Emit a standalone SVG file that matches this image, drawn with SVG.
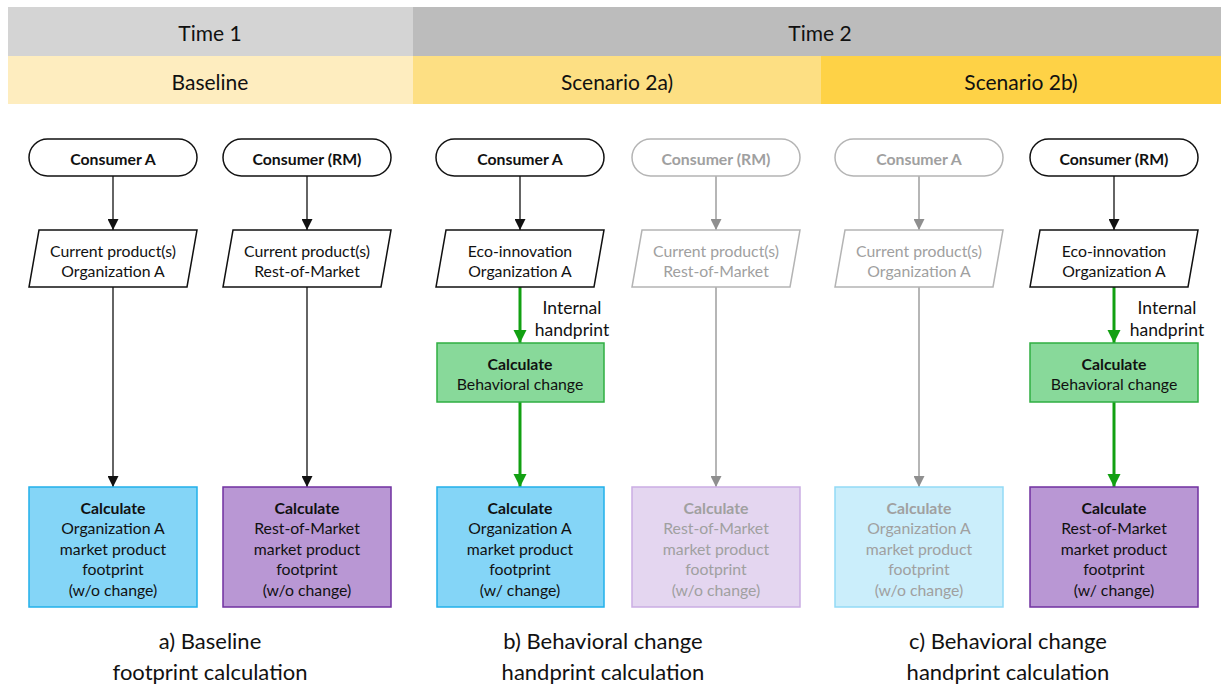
<svg xmlns="http://www.w3.org/2000/svg" width="1221" height="685" viewBox="0 0 1221 685">
  <defs>
    <style>
      text { font-family: Lato, "Open Sans", "Liberation Sans", sans-serif; text-anchor: middle; dominant-baseline: central; fill: #111; }
      .hdr { font-size: 21px; }
      .cap { font-size: 22px; }
      .lbl { font-size: 15.8px; }
      .note { font-size: 17.5px; }
      .b { font-weight: bold; }
      .fade { fill: #a0a0a0; }
      .pill { fill: #fff; stroke: #111; stroke-width: 1.5; }
      .pill.off { stroke: #b4b4b4; }
      .para { fill: #fff; stroke: #111; stroke-width: 1.5; }
      .para.off { stroke: #b4b4b4; }
      .green { fill: #88d99a; stroke: #2fae42; stroke-width: 1.5; }
      .blue { fill: #84d5f7; stroke: #22b0ea; stroke-width: 1.5; }
      .blue.off { fill: #cbeefb; stroke: #93daf6; }
      .purple { fill: #b997d4; stroke: #7030a0; stroke-width: 1.5; }
      .purple.off { fill: #e4d6f0; stroke: #caade3; }
      .ln { fill: none; stroke: #111; stroke-width: 1.3; }
      .ln.off { stroke: #8f8f8f; }
      .ln.grn { stroke: #12a012; stroke-width: 3; }
    </style>
    <marker id="ah" viewBox="0 0 10 10" refX="10" refY="5" markerUnits="userSpaceOnUse" markerWidth="11" markerHeight="11" orient="auto">
      <path d="M0,0 L10,5 L0,10 Z" fill="#111"/>
    </marker>
    <marker id="ah-off" viewBox="0 0 10 10" refX="10" refY="5" markerUnits="userSpaceOnUse" markerWidth="11" markerHeight="11" orient="auto">
      <path d="M0,0 L10,5 L0,10 Z" fill="#8f8f8f"/>
    </marker>
    <marker id="ah-grn" viewBox="0 0 10 10" refX="10" refY="5" markerUnits="userSpaceOnUse" markerWidth="13" markerHeight="15" orient="auto">
      <path d="M0,0 L10,5 L0,10 Z" fill="#12a012"/>
    </marker>
  </defs>

  <!-- header bands -->
  <g id="header">
    <rect x="8" y="7" width="405" height="49" fill="#d4d4d4"/>
    <rect x="413" y="7" width="808" height="49" fill="#bcbcbc"/>
    <rect x="8" y="56" width="405" height="48" fill="#feedbf"/>
    <rect x="413" y="56" width="408" height="48" fill="#fddf83"/>
    <rect x="821" y="56" width="400" height="48" fill="#fed246"/>
    <text class="hdr" x="210" y="32">Time 1</text>
    <text class="hdr" x="820" y="32">Time 2</text>
    <text class="hdr" x="210" y="81">Baseline</text>
    <text class="hdr" x="617" y="81">Scenario 2a)</text>
    <text class="hdr" x="1021" y="81">Scenario 2b)</text>
  </g>

  <!-- connectors -->
  <g id="connectors">
    <path class="ln" d="M113,176 V230" marker-end="url(#ah)"/>
    <path class="ln" d="M307,176 V230" marker-end="url(#ah)"/>
    <path class="ln" d="M520,176 V230" marker-end="url(#ah)"/>
    <path class="ln off" d="M716,176 V230" marker-end="url(#ah-off)"/>
    <path class="ln off" d="M919,176 V230" marker-end="url(#ah-off)"/>
    <path class="ln" d="M1114,176 V230" marker-end="url(#ah)"/>

    <path class="ln" d="M113,287 V487" marker-end="url(#ah)"/>
    <path class="ln" d="M307,287 V487" marker-end="url(#ah)"/>
    <path class="ln off" d="M716,287 V487" marker-end="url(#ah-off)"/>
    <path class="ln off" d="M919,287 V487" marker-end="url(#ah-off)"/>

    <path class="ln grn" d="M520,287 V343" marker-end="url(#ah-grn)"/>
    <path class="ln grn" d="M520,402 V487" marker-end="url(#ah-grn)"/>
    <path class="ln grn" d="M1114,287 V343" marker-end="url(#ah-grn)"/>
    <path class="ln grn" d="M1114,402 V487" marker-end="url(#ah-grn)"/>

    <text class="note" x="572" y="307">Internal</text>
    <text class="note" x="572" y="329">handprint</text>
    <text class="note" x="1167" y="307">Internal</text>
    <text class="note" x="1167" y="329">handprint</text>
  </g>

  <!-- a) baseline -->
  <g id="a-consumer-a">
    <rect class="pill" x="29" y="139" width="168" height="37" rx="18.5"/>
    <text class="lbl b" x="113" y="158">Consumer A</text>
  </g>
  <g id="a-consumer-rm">
    <rect class="pill" x="223" y="139" width="168" height="37" rx="18.5"/>
    <text class="lbl b" x="307" y="158">Consumer (RM)</text>
  </g>
  <g id="a-product-a">
    <polygon class="para" points="39,230 197,230 187,287 29,287"/>
    <text class="lbl" x="113" y="250">Current product(s)</text>
    <text class="lbl" x="113" y="270">Organization A</text>
  </g>
  <g id="a-product-rm">
    <polygon class="para" points="233,230 391,230 381,287 223,287"/>
    <text class="lbl" x="307" y="250">Current product(s)</text>
    <text class="lbl" x="307" y="270">Rest-of-Market</text>
  </g>
  <g id="a-calc-a">
    <rect class="blue" x="29" y="487" width="168" height="120"/>
    <text class="lbl b" x="113" y="507">Calculate</text>
    <text class="lbl" x="113" y="527">Organization A</text>
    <text class="lbl" x="113" y="548">market product</text>
    <text class="lbl" x="113" y="568">footprint</text>
    <text class="lbl" x="113" y="589">(w/o change)</text>
  </g>
  <g id="a-calc-rm">
    <rect class="purple" x="223" y="487" width="168" height="120"/>
    <text class="lbl b" x="307" y="507">Calculate</text>
    <text class="lbl" x="307" y="527">Rest-of-Market</text>
    <text class="lbl" x="307" y="548">market product</text>
    <text class="lbl" x="307" y="568">footprint</text>
    <text class="lbl" x="307" y="589">(w/o change)</text>
  </g>

  <!-- b) scenario 2a -->
  <g id="b-consumer-a">
    <rect class="pill" x="436" y="139" width="168" height="37" rx="18.5"/>
    <text class="lbl b" x="520" y="158">Consumer A</text>
  </g>
  <g id="b-consumer-rm">
    <rect class="pill off" x="632" y="139" width="168" height="37" rx="18.5"/>
    <text class="lbl b fade" x="716" y="158">Consumer (RM)</text>
  </g>
  <g id="b-eco-a">
    <polygon class="para" points="446,230 604,230 594,287 436,287"/>
    <text class="lbl" x="520" y="250">Eco-innovation</text>
    <text class="lbl" x="520" y="270">Organization A</text>
  </g>
  <g id="b-product-rm">
    <polygon class="para off" points="642,230 800,230 790,287 632,287"/>
    <text class="lbl fade" x="716" y="250">Current product(s)</text>
    <text class="lbl fade" x="716" y="270">Rest-of-Market</text>
  </g>
  <g id="b-behavior">
    <rect class="green" x="437" y="343" width="167" height="59"/>
    <text class="lbl b" x="520" y="363">Calculate</text>
    <text class="lbl" x="520" y="383">Behavioral change</text>
  </g>
  <g id="b-calc-a">
    <rect class="blue" x="437" y="487" width="167" height="120"/>
    <text class="lbl b" x="520" y="507">Calculate</text>
    <text class="lbl" x="520" y="527">Organization A</text>
    <text class="lbl" x="520" y="548">market product</text>
    <text class="lbl" x="520" y="568">footprint</text>
    <text class="lbl" x="520" y="589">(w/ change)</text>
  </g>
  <g id="b-calc-rm">
    <rect class="purple off" x="632" y="487" width="168" height="120"/>
    <text class="lbl b fade" x="716" y="507">Calculate</text>
    <text class="lbl fade" x="716" y="527">Rest-of-Market</text>
    <text class="lbl fade" x="716" y="548">market product</text>
    <text class="lbl fade" x="716" y="568">footprint</text>
    <text class="lbl fade" x="716" y="589">(w/o change)</text>
  </g>

  <!-- c) scenario 2b -->
  <g id="c-consumer-a">
    <rect class="pill off" x="835" y="139" width="168" height="37" rx="18.5"/>
    <text class="lbl b fade" x="919" y="158">Consumer A</text>
  </g>
  <g id="c-consumer-rm">
    <rect class="pill" x="1030" y="139" width="168" height="37" rx="18.5"/>
    <text class="lbl b" x="1114" y="158">Consumer (RM)</text>
  </g>
  <g id="c-product-a">
    <polygon class="para off" points="845,230 1003,230 993,287 835,287"/>
    <text class="lbl fade" x="919" y="250">Current product(s)</text>
    <text class="lbl fade" x="919" y="270">Organization A</text>
  </g>
  <g id="c-eco-a">
    <polygon class="para" points="1040,230 1198,230 1188,287 1030,287"/>
    <text class="lbl" x="1114" y="250">Eco-innovation</text>
    <text class="lbl" x="1114" y="270">Organization A</text>
  </g>
  <g id="c-behavior">
    <rect class="green" x="1030" y="343" width="168" height="59"/>
    <text class="lbl b" x="1114" y="363">Calculate</text>
    <text class="lbl" x="1114" y="383">Behavioral change</text>
  </g>
  <g id="c-calc-a">
    <rect class="blue off" x="835" y="487" width="168" height="120"/>
    <text class="lbl b fade" x="919" y="507">Calculate</text>
    <text class="lbl fade" x="919" y="527">Organization A</text>
    <text class="lbl fade" x="919" y="548">market product</text>
    <text class="lbl fade" x="919" y="568">footprint</text>
    <text class="lbl fade" x="919" y="589">(w/o change)</text>
  </g>
  <g id="c-calc-rm">
    <rect class="purple" x="1030" y="487" width="168" height="120"/>
    <text class="lbl b" x="1114" y="507">Calculate</text>
    <text class="lbl" x="1114" y="527">Rest-of-Market</text>
    <text class="lbl" x="1114" y="548">market product</text>
    <text class="lbl" x="1114" y="568">footprint</text>
    <text class="lbl" x="1114" y="589">(w/ change)</text>
  </g>

  <!-- panel captions -->
  <g id="captions">
    <text class="cap" x="210" y="640">a) Baseline</text>
    <text class="cap" x="210" y="671">footprint calculation</text>
    <text class="cap" x="603" y="640">b) Behavioral change</text>
    <text class="cap" x="603" y="671">handprint calculation</text>
    <text class="cap" x="1008" y="640">c) Behavioral change</text>
    <text class="cap" x="1008" y="671">handprint calculation</text>
  </g>
</svg>
